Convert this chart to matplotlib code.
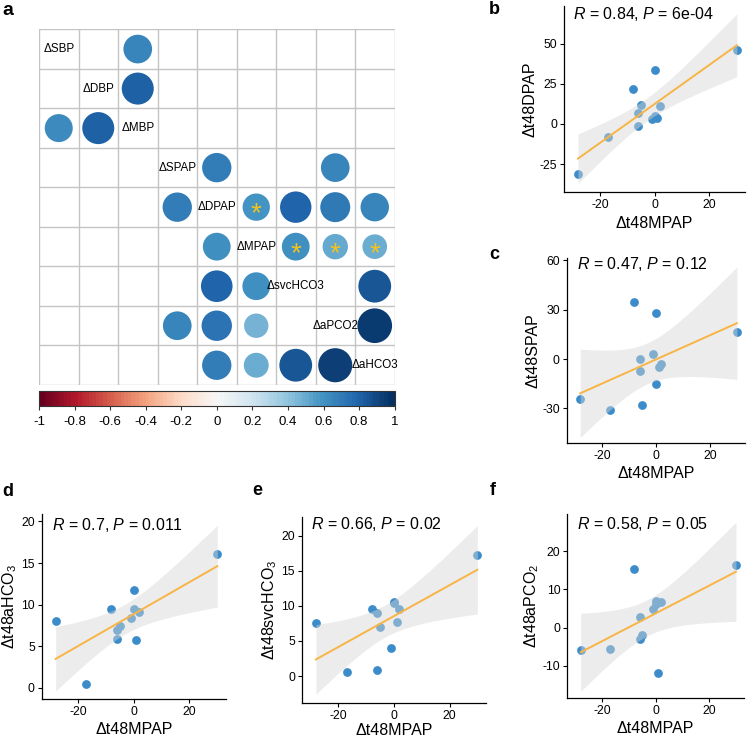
import numpy as np
import matplotlib
matplotlib.use("Agg")
import matplotlib.pyplot as plt
from matplotlib.patches import Circle
from matplotlib.colors import ListedColormap, Normalize
from matplotlib.cm import ScalarMappable
from math import gamma, sqrt, pi

plt.rcParams['font.family'] = ['Liberation Sans', 'DejaVu Sans']
plt.rcParams['mathtext.fontset'] = 'custom'
plt.rcParams['mathtext.rm'] = 'Liberation Sans'
plt.rcParams['mathtext.it'] = 'Liberation Sans:italic'
plt.rcParams['mathtext.bf'] = 'Liberation Sans:bold'
plt.rcParams['axes.unicode_minus'] = False

# ---------------- data ----------------
variables = ['ΔSBP', 'ΔDBP', 'ΔMBP', 'ΔSPAP', 'ΔDPAP', 'ΔMPAP', 'ΔsvcHCO3', 'ΔaPCO2', 'ΔaHCO3']
nan = np.nan
corr = [
    [nan, nan, 0.65, nan, nan, nan, nan, nan, nan],
    [nan, nan, 0.81, nan, nan, nan, nan, nan, nan],
    [0.62, 0.81, nan, nan, nan, nan, nan, nan, nan],
    [nan, nan, nan, nan, 0.68, nan, nan, 0.65, nan],
    [nan, nan, nan, 0.68, nan, 0.59, 0.78, 0.71, 0.64],
    [nan, nan, nan, nan, 0.61, nan, 0.61, 0.51, 0.48],
    [nan, nan, nan, nan, 0.79, 0.61, nan, nan, 0.85],
    [nan, nan, nan, 0.65, 0.73, 0.47, nan, nan, 0.95],
    [nan, nan, nan, nan, 0.68, 0.49, 0.85, 0.92, nan],
]
stars = [(4, 5), (5, 6), (5, 7), (5, 8)]
cbar_ticks = [-1, -0.8, -0.6, -0.4, -0.2, 0, 0.2, 0.4, 0.6, 0.8, 1]

mpap = [-28, -17, -8, 0, -5, -6, -6, -1, 0, 1, 2, 30]
dpap = [-31, -8, 22, 34, 12, 7, -1, 3, 5, 4, 11, 46]
spap = [-24, -31, 35, 28, -28, 0, -7, 3, -15, -5, -3, 16.5]
ahco3 = [8.0, 0.5, 9.5, 11.8, 7.4, 7.0, 5.9, 8.4, 9.5, 5.7, 9.1, 16.1]
svchco3 = [7.5, 0.6, 9.6, 10.6, 7.0, 9.0, 0.9, 4.0, 10.4, 7.7, 9.5, 17.2]
apco2 = [-5.8, -5.6, 15.3, 7.0, -1.9, 2.7, -3.0, 5.0, 6.2, -11.9, 6.6, 16.4]

xlabel = 'Δt48MPAP'
xticks = [-20, 0, 20]

# ---------------- layout helpers ----------------
W, H = 748, 740
def box(l, t, r, b):
    return [l / W, 1 - b / H, (r - l) / W, (b - t) / H]

fig = plt.figure(figsize=(W / 100, H / 100), dpi=100)

# ---------------- panel a ----------------
cmap = ListedColormap(plt.get_cmap('RdBu')(np.linspace(0, 1, 100)))
norm = Normalize(-1, 1)
axa = fig.add_axes(box(39, 29.3, 394.5, 385))
n = len(variables)
axa.set_xlim(0, n)
axa.set_ylim(n, 0)
axa.set_xticks([]); axa.set_yticks([])
for s in axa.spines.values():
    s.set_visible(False)
for i in range(n + 1):
    axa.axhline(i, color='#c4c4c4', lw=1.0, zorder=1)
    axa.axvline(i, color='#c4c4c4', lw=1.0, zorder=1)
for r in range(n):
    for c in range(n):
        v = corr[r][c]
        if not np.isnan(v):
            axa.add_patch(Circle((c + 0.5, r + 0.5), 0.45 * np.sqrt(abs(v)),
                                 color=cmap(norm(v)), lw=0, zorder=2))
for i, name in enumerate(variables):
    axa.text(i + 0.5, i + 0.5, name, ha='center', va='center', fontsize=8.4,
             color='black', zorder=3)
for (r, c) in stars:
    axa.text(c + 0.5, r + 0.86, '*', ha='center', va='baseline', fontsize=20,
             color='#F2C31B', zorder=4)

cax = fig.add_axes(box(39, 391, 394.7, 406))
cb = fig.colorbar(ScalarMappable(norm=norm, cmap=cmap), cax=cax, orientation='horizontal')
cb.set_ticks(cbar_ticks)
cb.set_ticklabels([f'{v:g}' for v in cbar_ticks])
cb.outline.set_edgecolor('#333333')
cb.outline.set_linewidth(0.8)
cax.tick_params(axis='x', direction='out', length=3, width=0.8, colors='#333333',
                labelsize=9.5, labelcolor='black', pad=4)

fig.text(2.7 / W, 1 - 15 / H, 'a', fontsize=14, fontweight='bold', ha='left', va='baseline')

# ---------------- scatter panels ----------------
def t_ppf(p, df):
    cc = gamma((df + 1) / 2) / (sqrt(df * pi) * gamma(df / 2))
    def cdf(t):
        xs = np.linspace(0, t, 4001)
        return 0.5 + np.trapezoid(cc * (1 + xs ** 2 / df) ** (-(df + 1) / 2), xs)
    lo, hi = 0.0, 20.0
    for _ in range(80):
        mid = 0.5 * (lo + hi)
        if cdf(mid) < p:
            lo = mid
        else:
            hi = mid
    return 0.5 * (lo + hi)

panels = [
    dict(letter='b', y=dpap, ylabel='Δt48DPAP', yticks=[-25, 0, 25, 50],
         ylim=(-42.3, 73.7), box=(564.3, 6, 745, 191.7), xpad=4,
         stat=r'$R$ = 0.84, $P$ = 6e-04', stat_xy=(572.7, 19), let_xy=(489.3, 14)),
    dict(letter='c', y=spap, ylabel='Δt48SPAP', yticks=[-30, 0, 30, 60],
         ylim=(-51, 61.5), box=(566.7, 258, 745, 443), xpad=3,
         stat=r'$R$ = 0.47, $P$ = 0.12', stat_xy=(576.7, 269.3), let_xy=(489.3, 259)),
    dict(letter='d', y=ahco3, ylabel='Δt48aHCO$_3$', yticks=[0, 5, 10, 15, 20],
         ylim=(-1.4, 20.9), box=(41.7, 514, 225.7, 699.3), xpad=3,
         stat=r'$R$ = 0.7, $P$ = 0.011', stat_xy=(51.7, 530), let_xy=(2.7, 496)),
    dict(letter='e', y=svchco3, ylabel='Δt48svcHCO$_3$', yticks=[0, 5, 10, 15, 20],
         ylim=(-3.8, 22.7), box=(302, 516.7, 485.7, 702.7), xpad=1,
         stat=r'$R$ = 0.66, $P$ = 0.02', stat_xy=(311, 529.3), let_xy=(252.7, 495)),
    dict(letter='f', y=apco2, ylabel='Δt48aPCO$_2$', yticks=[-10, 0, 10, 20],
         ylim=(-18.3, 29.7), box=(567.3, 514, 744, 697.7), xpad=3,
         stat=r'$R$ = 0.58, $P$ = 0.05', stat_xy=(576.7, 529.3), let_xy=(489.3, 495)),
]

x = np.array(mpap, dtype=float)
for p in panels:
    y = np.array(p['y'], dtype=float)
    ax = fig.add_axes(box(*p['box']))
    nn = len(x)
    slope, icpt = np.polyfit(x, y, 1)
    resid = y - (slope * x + icpt)
    s = np.sqrt(np.sum(resid ** 2) / (nn - 2))
    sxx = np.sum((x - x.mean()) ** 2)
    xs = np.linspace(x.min(), x.max(), 80)
    yh = slope * xs + icpt
    se = s * np.sqrt(1 / nn + (xs - x.mean()) ** 2 / sxx)
    tq = t_ppf(0.975, nn - 2)
    ax.scatter(x, y, s=40, color='#3d8cca', lw=0, zorder=2)
    ax.fill_between(xs, yh - tq * se, yh + tq * se, color='#d6d6d6', alpha=0.45,
                    lw=0, zorder=3)
    ax.plot(xs, yh, color='#F8B445', lw=1.4, zorder=4)
    ax.set_xlim(-33, 33)
    ax.set_ylim(*p['ylim'])
    ax.set_xticks(xticks)
    ax.set_yticks(p['yticks'])
    for side in ['top', 'right']:
        ax.spines[side].set_visible(False)
    for side in ['left', 'bottom']:
        ax.spines[side].set_linewidth(0.9)
        ax.spines[side].set_color('black')
    ax.tick_params(direction='out', length=3, width=0.8, labelsize=8.8, pad=2,
                   colors='black')
    ax.set_xlabel(xlabel, fontsize=11.5, labelpad=p['xpad'])
    ax.set_ylabel(p['ylabel'], fontsize=11.5, labelpad=1.5)
    sx, sy = p['stat_xy']
    fig.text(sx / W, 1 - sy / H, p['stat'], fontsize=11.5, ha='left', va='baseline')
    lx, ly = p['let_xy']
    fig.text(lx / W, 1 - ly / H, p['letter'], fontsize=13, fontweight='bold',
             ha='left', va='baseline')

fig.savefig('out.png', dpi=100)
